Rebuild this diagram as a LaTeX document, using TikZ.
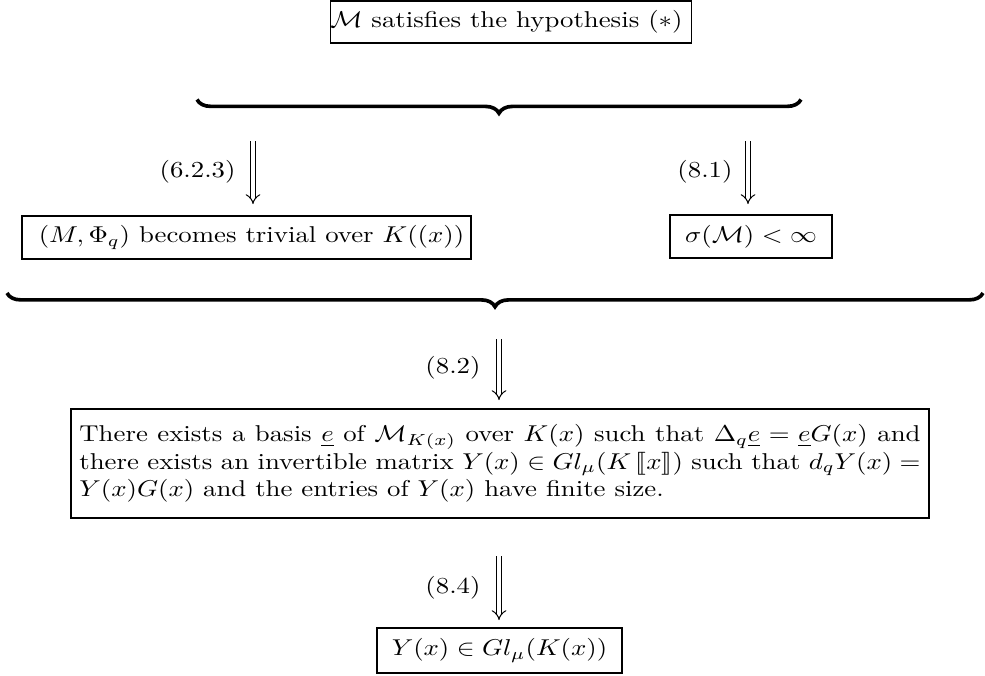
\documentclass[tikz,border=0pt]{standalone}
\usepackage{amsmath,amssymb}
\usepackage{stmaryrd}
\usepackage{graphicx}
\usetikzlibrary{arrows.meta,decorations.pathreplacing}
\newcommand\pxu{0.4367pt}
\newcommand\hs[1]{\scalebox{1.17}[1]{#1}}
\begin{document}
\begin{tikzpicture}[x=0.4367pt,y=-0.4367pt,
  boxnode/.style={draw,line width=0.7pt,inner sep=0pt,align=center},
  lbl/.style={anchor=east,inner sep=0pt},
  dimp/.style={double,double distance=1.8pt,line width=0.45pt,-{Implies[length=4.5pt,width=7pt]}},
  ubrace/.style={decorate,decoration={brace,mirror,amplitude=6pt},line width=1.6pt}]
\useasboundingbox (0,0) rectangle (985,675);
% top box
\node[boxnode,minimum width=358*\pxu,minimum height=42*\pxu] (top) at (511,22)
  {\hs{$\mathcal{M}$ satisfies the hypothesis $(*)$}\hspace{4pt}};
\coordinate (tb1) at (197,99.5);
\coordinate (tb2) at (801,99.5);
\draw[ubrace] (tb1) -- (tb2);
% second row
\node[boxnode,minimum width=449*\pxu,minimum height=43*\pxu] (left) at (246.5,237.5)
  {\hspace{4.4pt}\hs{$(M,\Phi_q)$ becomes trivial over $K((x))$}};
\node[boxnode,minimum width=162*\pxu,minimum height=43*\pxu] (right) at (751,236.5)
  {\hs{$\sigma(\mathcal{M})<\infty$}};
\coordinate (a1s) at (253,141);
\coordinate (a1e) at (253,204);
\coordinate (a2s) at (748,141);
\coordinate (a2e) at (748,204);
\draw[dimp] (a1s) -- (a1e);
\draw[dimp] (a2s) -- (a2e);
\node[lbl] (l1) at (236,172) {\hs{$(6.2.3)$}};
\node[lbl] (l2) at (733,172) {\hs{$(8.1)$}};
% bottom brace
\coordinate (bb1) at (7,293);
\coordinate (bb2) at (983,293);
\draw[ubrace] (bb1) -- (bb2);
% 8.2
\coordinate (a3s) at (499,339);
\coordinate (a3e) at (499,400);
\draw[dimp] (a3s) -- (a3e);
\node[lbl] (l3) at (481,368) {\hs{$(8.2)$}};
% big box
\node[boxnode,minimum width=858*\pxu,minimum height=109*\pxu,align=left] (big) at (500,463.5)
  {\hs{\parbox{314pt}{\makebox[314pt][s]{There exists a basis $\underline{e}$ of $\mathcal{M}_{K(x)}$ over $K(x)$ such that $\Delta_q\underline{e}=\underline{e}G(x)$ and}\\
  \makebox[314pt][s]{there exists an invertible matrix $Y(x)\in Gl_\mu(K\left\llbracket x\right\rrbracket)$ such that $d_qY(x)=$}\\
  $Y(x)G(x)$ and the entries of $Y(x)$ have finite size.}}};
% 8.4
\coordinate (a4s) at (499,556);
\coordinate (a4e) at (499,620);
\draw[dimp] (a4s) -- (a4e);
\node[lbl] (l4) at (481,588) {\hs{$(8.4)$}};
\node[boxnode,minimum width=245*\pxu,minimum height=45*\pxu] (bot) at (499.5,650.5)
  {\hs{$Y(x)\in Gl_\mu(K(x))$}};
\end{tikzpicture}
\end{document}
